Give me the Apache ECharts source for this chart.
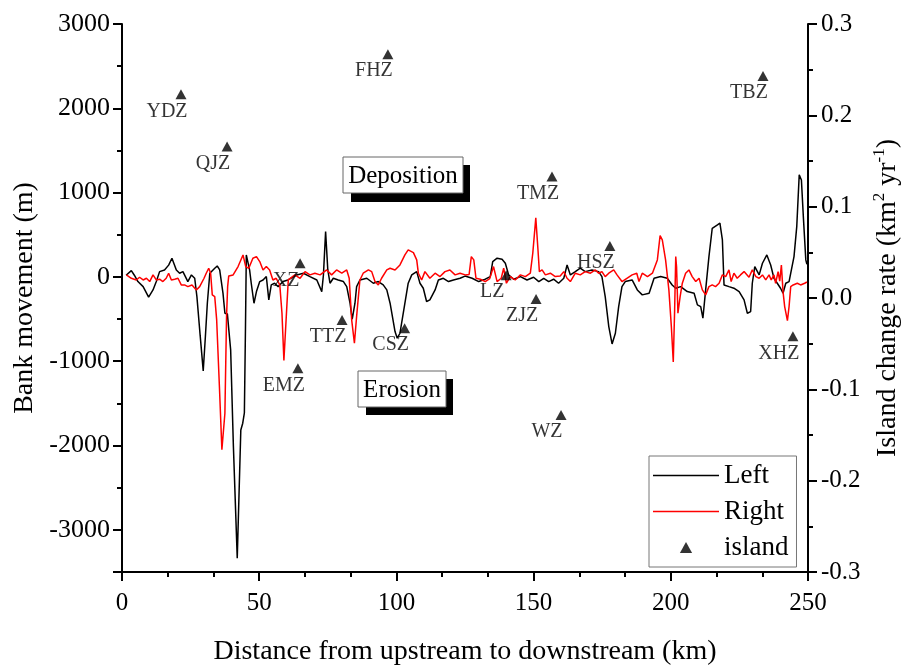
<!DOCTYPE html>
<html><head><meta charset="utf-8">
<script src="https://cdn.jsdelivr.net/npm/echarts@6/dist/echarts.min.js"></script>
<style>html,body{margin:0;padding:0;background:#fff}#c{width:909px;height:666px}</style>
</head><body><div id="c"></div>
<script>
// Left bank movement (m) vs distance (km)
const leftKm = [1.5,3.4,4.5,5.8,7.7,9.7,11.3,12.5,13.7,15.5,17.0,18.2,19.8,21.0,22.2,24.0,25.3,26.5,27.3,28.5,29.6,30.4,31.1,32.0,33.8,34.7,35.6,36.8,37.5,38.4,39.6,40.6,42.0,43.3,44.0,44.6,45.0,45.3,46.5,47.1,48.1,49.0,50.2,51.4,52.6,53.5,54.4,55.6,56.9,58.7,60.5,63.7,66.1,68.5,71.0,72.8,73.4,74.2,75.0,75.8,77.0,78.8,80.7,81.9,83.1,83.9,84.9,85.5,86.7,89.2,91.6,93.4,95.2,96.5,97.7,99.5,100.3,101.3,103.1,104.3,105.6,107.4,108.6,109.8,111.0,112.2,114.1,115.3,117.1,119.0,120.8,123.2,125.0,127.6,130.0,132.4,134.2,135.1,136.7,138.5,139.7,140.9,142.7,145.2,147.6,150.0,151.9,153.7,155.5,157.3,159.1,161.0,162.2,163.4,165.2,167.0,168.8,171.3,173.7,174.9,176.1,177.4,178.6,179.8,181.0,182.2,183.4,185.9,187.8,189.6,192.1,193.9,196.3,198.7,200.5,201.8,203.6,206.0,208.5,209.7,210.9,211.7,212.7,213.9,215.1,217.0,217.9,218.8,219.4,221.2,223.0,224.9,226.7,227.9,229.1,229.7,230.6,232.2,233.4,235.0,236.4,237.6,238.8,240.0,240.9,241.9,243.1,244.9,245.9,246.8,247.6,248.3,249.2,249.6];
const leftVal = [20,75,20,-55,-115,-240,-154,-55,63,83,140,222,83,44,63,-55,24,-16,-233,-700,-1115,-700,-312,44,103,130,83,-193,-431,-439,-866,-2013,-3336,-1815,-1735,-1613,-600,261,83,-75,-312,-174,-55,-36,4,-273,-95,-75,-115,-55,-36,24,44,4,-36,-174,20,537,83,-75,-16,-36,-55,-115,-312,-502,-312,-115,-36,-16,-75,-55,-95,-154,-312,-648,-727,-668,-312,-75,24,63,-75,-134,-292,-273,-154,-36,-16,-55,-36,-16,10,-16,-55,-27,4,182,222,210,162,24,-27,4,-36,-4,-55,-16,-55,-27,-75,-16,142,24,63,103,63,83,63,4,-233,-589,-795,-668,-352,-115,-55,-36,-154,-213,-194,-16,4,-16,-95,-134,-115,-174,-194,-332,-352,-490,-154,241,577,617,637,439,-95,-115,-134,-174,-273,-431,-411,-75,123,24,162,261,142,-16,-75,-134,-194,-75,-55,241,597,1210,1150,715,202,150];

// Right bank movement (m) vs distance (km)
const rightKm = [1.6,3.4,5.2,6.4,7.7,8.9,10.1,11.3,12.5,13.7,14.9,16.1,17.0,18.0,19.2,20.4,21.6,22.8,24.0,25.5,27.1,28.3,29.9,30.7,31.6,32.3,32.9,33.8,34.5,35.5,36.4,37.5,38.1,38.5,38.9,40.5,42.3,44.1,45.1,46.2,47.7,49.0,50.2,51.4,52.6,53.8,55.0,56.2,57.5,58.3,59.0,60.0,60.6,61.2,63.0,64.9,66.7,68.5,70.3,72.2,74.6,76.4,78.2,80.1,81.9,82.8,83.7,84.7,85.5,86.7,87.9,89.8,91.0,92.2,93.4,94.6,96.5,97.7,99.5,101.3,103.1,104.3,106.2,107.4,108.0,109.2,110.4,112.2,114.1,115.9,117.7,119.5,121.4,123.2,125.1,126.5,127.3,128.2,129.0,130.6,132.4,134.0,135.4,136.7,138.2,139.1,140.1,141.5,143.3,145.2,147.0,148.8,149.7,150.8,151.6,152.1,153.1,154.3,156.1,157.9,159.7,161.0,162.2,163.4,165.2,167.0,168.8,170.7,172.5,173.7,174.9,176.1,177.4,179.2,180.4,182.2,184.0,185.9,187.6,188.4,189.6,191.5,193.3,195.1,196.1,196.9,198.1,199.3,200.2,200.9,201.4,201.8,202.1,202.6,203.4,204.2,205.4,206.6,207.8,209.1,210.3,211.5,212.7,213.9,215.1,216.3,217.6,218.8,220.0,221.2,222.0,223.0,224.2,225.4,226.7,228.5,229.7,231.0,232.2,233.4,234.6,235.8,236.6,237.6,238.2,239.1,239.7,240.3,240.9,241.5,242.5,243.1,243.7,244.6,246.1,247.3,248.8,249.6];
const rightVal = [24,-16,-36,-4,-36,-16,-55,24,-36,-27,-55,-16,44,-36,-27,-16,-95,-95,-115,-95,-154,-115,-16,44,103,44,-213,-233,-510,-1300,-2050,-1617,-470,-115,12,24,123,261,123,103,222,241,182,83,123,83,-36,-16,-95,-431,-990,-391,-36,-55,24,-16,63,24,44,24,83,24,83,44,83,-16,-510,-786,-470,-36,44,83,63,-55,-95,-16,83,103,83,142,261,320,288,202,44,-36,63,-16,44,4,63,83,24,44,24,30,241,202,-16,-27,-55,-20,123,-55,-16,103,-75,4,-36,24,4,44,281,700,320,63,83,24,44,4,10,63,-16,-55,44,24,63,44,83,44,63,4,44,83,24,-55,-16,24,44,-55,44,4,44,202,490,439,202,-154,-589,-1010,-391,241,120,-431,-233,-75,44,83,4,-55,-16,-154,-213,-115,-95,-115,-75,24,4,83,-55,44,-16,24,63,-4,83,4,-16,24,-36,24,-36,24,-75,63,-50,142,-174,-352,-518,-352,-115,-95,-75,-95,-75,-60];

// Islands: distance (km) and change rate (km2/yr)
const islandNames = ['YDZ','QJZ','XZ','EMZ','TTZ','FHZ','CSZ','LZ','ZJZ','TMZ','WZ','HSZ','TBZ','XHZ'];
const islandKm    = [21.5, 38.3, 64.9, 64.1, 80.2, 96.9, 103.0, 140.0, 150.9, 156.7, 160.0, 177.8, 233.6, 244.5];
const islandRate  = [0.223, 0.166, 0.038, -0.077, -0.024, 0.267, -0.033, 0.025, -0.001, 0.133, -0.128, 0.057, 0.243, -0.042];

const F = "'Liberation Serif','Times New Roman',serif";
const leftData = leftKm.map((k,i)=>[k,leftVal[i]]);
const rightData = rightKm.map((k,i)=>[k,rightVal[i]]);
const islandData = islandKm.map((k,i)=>[k,islandRate[i],islandNames[i]]);

const axisLS = {color:'#000',width:2};
const lineIcon = 'path://M0,0H66V1.5H0Z';
const chart = echarts.init(document.getElementById('c'));
chart.setOption({
  backgroundColor:'#fff',
  animation:false,
  grid:{left:122,right:101,top:24,bottom:94,containLabel:false,outerBoundsMode:'none'},
  xAxis:{type:'value',min:0,max:250,interval:50,
    axisLine:{onZero:false,lineStyle:axisLS},
    axisTick:{length:9,lineStyle:axisLS},
    minorTick:{show:true,splitNumber:3,length:5,lineStyle:axisLS},
    splitLine:{show:false},minorSplitLine:{show:false},
    axisLabel:{fontFamily:F,fontSize:25,color:'#000',margin:19},
    name:'Distance from upstream to downstream (km)',nameLocation:'middle',nameGap:66,
    nameTextStyle:{fontFamily:F,fontSize:28,color:'#000'}},
  yAxis:[
    {type:'value',position:'left',min:-3500,max:3000,
      axisLine:{show:true,onZero:false,lineStyle:axisLS},
      axisTick:{show:true,length:9,lineStyle:axisLS},
      splitLine:{show:false},
      axisLabel:{fontFamily:F,fontSize:26,color:'#000',margin:12,
        formatter:v=> (v%1000===0? String(v):'')},
      name:'Bank movement (m)',nameLocation:'middle',nameRotate:90,nameGap:80,
      nameTextStyle:{fontFamily:F,fontSize:28,color:'#000'}},
    {type:'value',position:'left',min:-3500,max:3000,interval:500,
      axisLine:{show:false,onZero:false},
      axisTick:{show:true,length:5,lineStyle:axisLS},
      axisLabel:{show:false},splitLine:{show:false}},
    {type:'value',position:'right',min:-0.3,max:0.3,interval:0.1,
      axisLine:{show:true,onZero:false,lineStyle:axisLS},
      axisTick:{show:true,length:9,lineStyle:axisLS},
      minorTick:{show:true,splitNumber:2,length:5,lineStyle:axisLS},
      splitLine:{show:false},minorSplitLine:{show:false},
      axisLabel:{fontFamily:F,fontSize:25,color:'#000',margin:13,formatter:v=>v.toFixed(1)},
      name:'{t|Island change rate (km}{s|2}{t| yr}{s|-1}{t|)}',
      nameLocation:'middle',nameRotate:90,nameGap:55,
      nameTextStyle:{rich:{
        t:{fontFamily:F,fontSize:28,color:'#000',lineHeight:32},
        s:{fontFamily:F,fontSize:17,color:'#000',lineHeight:17,verticalAlign:'top'}}}}
  ],
  legend:{orient:'vertical',left:649,top:456,padding:[6,8,6,4],itemGap:9,
    itemWidth:66,itemHeight:11,borderColor:'#777',borderWidth:1,backgroundColor:'#fff',
    textStyle:{fontFamily:F,fontSize:27,color:'#000'},
    data:[{name:'Left',icon:lineIcon},{name:'Right',icon:lineIcon},{name:'island',icon:'path://M5,0L10,9L0,9Z'}]},
  graphic:[
    {type:'rect',shape:{x:351,y:165,width:119,height:37},style:{fill:'#000'},z:10},
    {type:'rect',shape:{x:343,y:157,width:120,height:36},style:{fill:'#fff',stroke:'#666',lineWidth:1},z:11},
    {type:'text',x:403,y:176,z:12,style:{text:'Deposition',fontFamily:F,fontSize:25,fill:'#000',align:'center',verticalAlign:'middle'}},
    {type:'rect',shape:{x:366,y:379,width:87,height:36},style:{fill:'#000'},z:10},
    {type:'rect',shape:{x:358,y:371,width:88,height:36},style:{fill:'#fff',stroke:'#666',lineWidth:1},z:11},
    {type:'text',x:402,y:390,z:12,style:{text:'Erosion',fontFamily:F,fontSize:25,fill:'#000',align:'center',verticalAlign:'middle'}}
  ],
  series:[
    {name:'Left',type:'line',yAxisIndex:0,data:leftData,symbol:'none',color:'#000',
      lineStyle:{color:'#000',width:1.5},z:3},
    {name:'Right',type:'line',yAxisIndex:0,data:rightData,symbol:'none',color:'#ff0000',
      lineStyle:{color:'#ff0000',width:1.5},z:4},
    {name:'island',type:'scatter',yAxisIndex:2,data:islandData,symbol:'triangle',symbolSize:[11,10],
      color:'#000',itemStyle:{color:'#000'},z:5,
      label:{show:true,position:'inside',offset:[-14,17],formatter:p=>p.data[2],
        fontFamily:F,fontSize:20,color:'#000'}}
  ]
});
</script></body></html>
